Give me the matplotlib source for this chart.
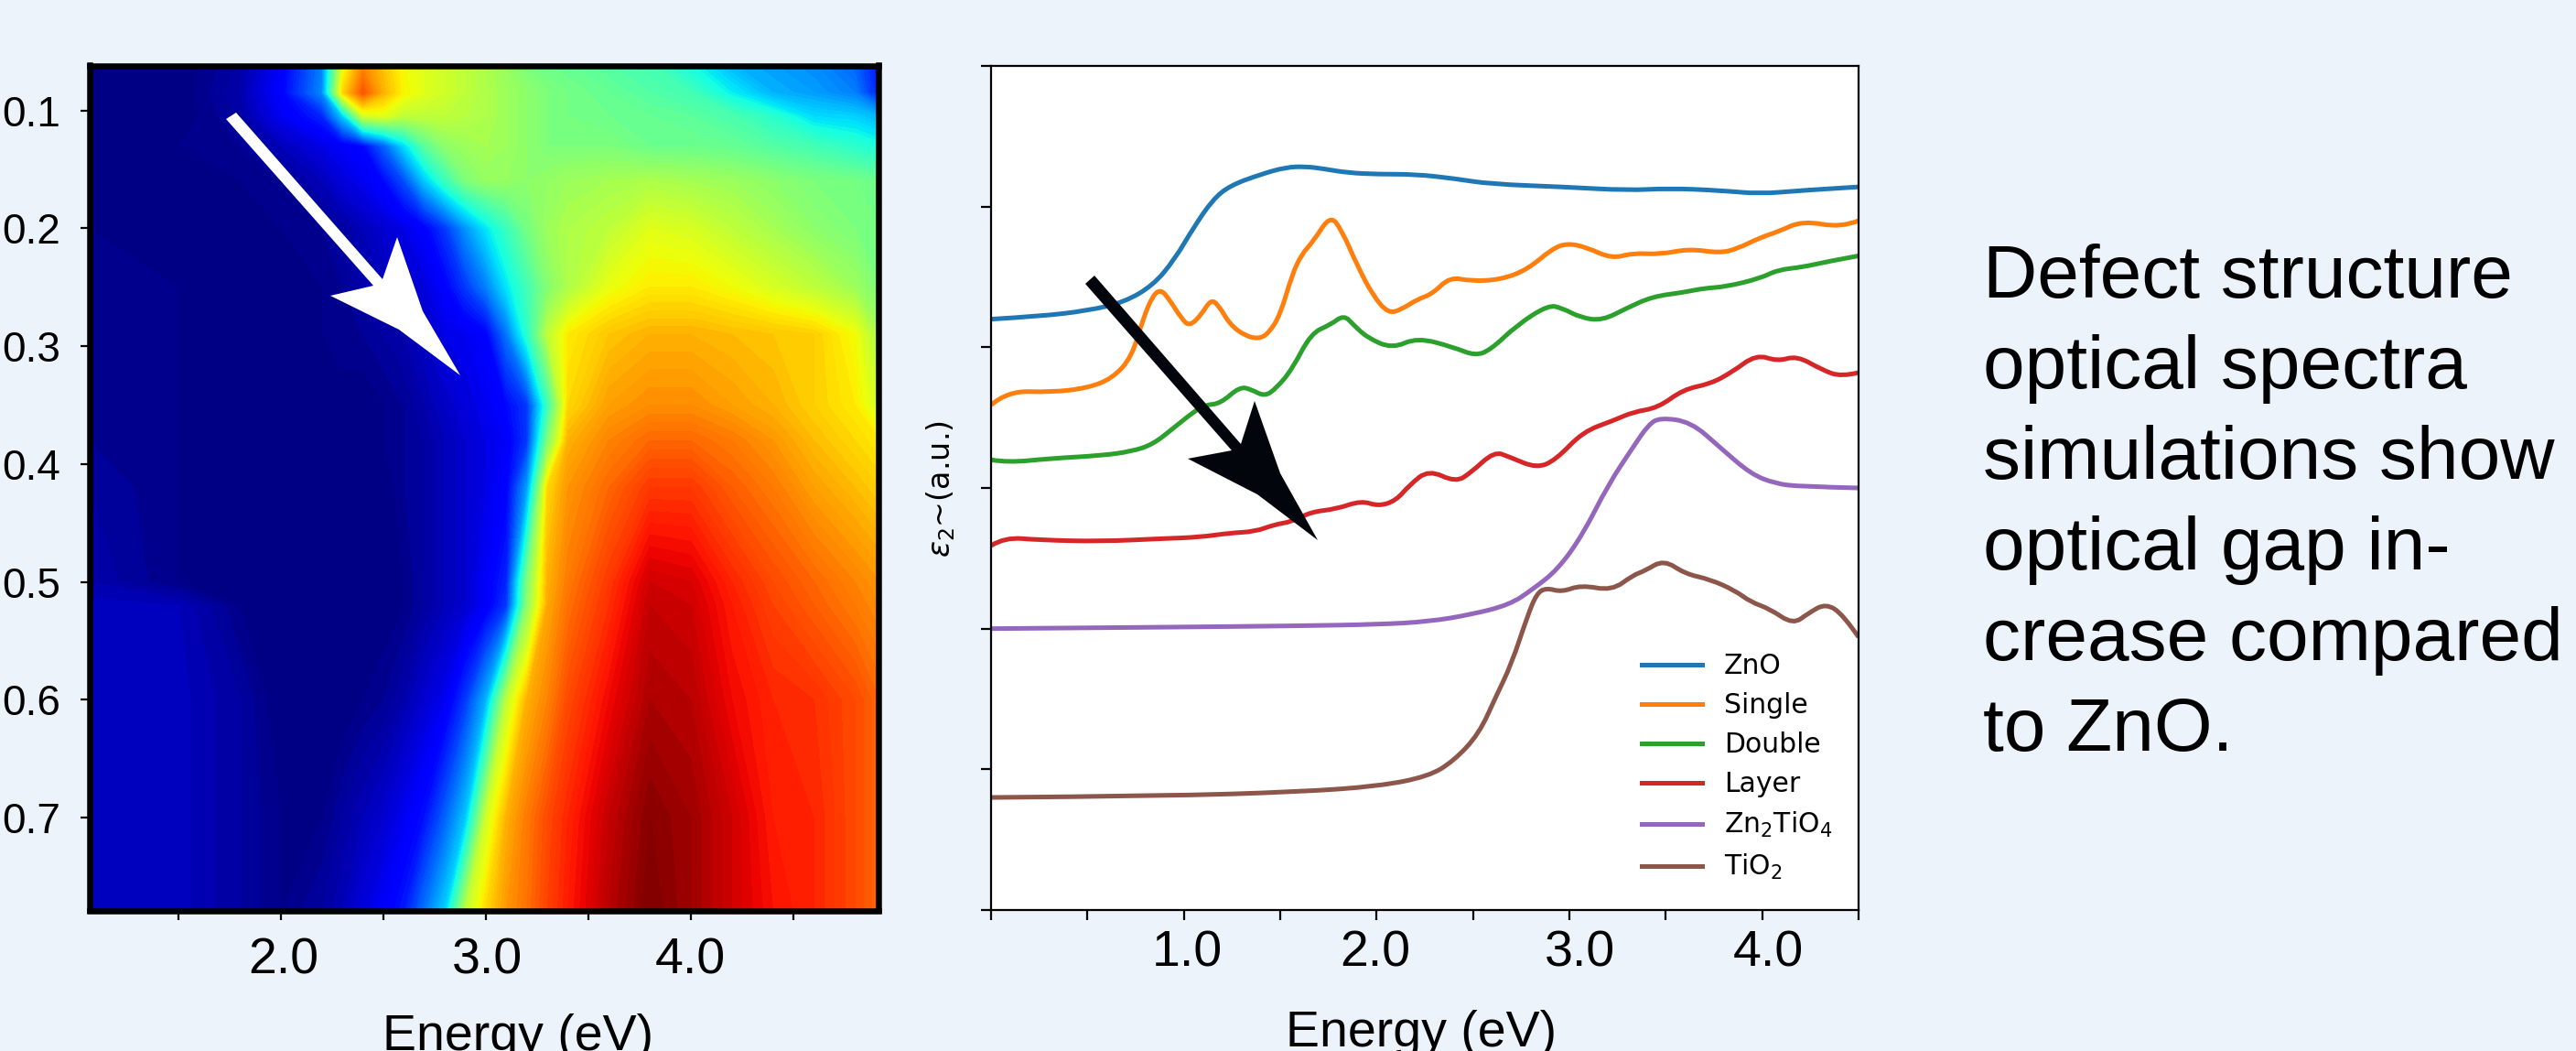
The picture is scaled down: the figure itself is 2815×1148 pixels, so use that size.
import numpy as np
import matplotlib
matplotlib.use("Agg")
import matplotlib.pyplot as plt
from matplotlib.lines import Line2D
from matplotlib.patches import PathPatch, Polygon
from matplotlib.path import Path

plt.rcParams['font.family'] = ['Liberation Sans', 'DejaVu Sans']
plt.rcParams['mathtext.fontset'] = 'dejavusans'

W, H = 2815, 1148
BG = '#edf3fb'

# map: energy columns, y rows, intensity (0-1 on jet)
map_energy = [1.06, 1.50, 1.80, 2.00, 2.20, 2.30, 2.40, 2.50, 2.60, 2.70, 2.80, 2.90, 3.00,
              3.10, 3.20, 3.30, 3.40, 3.60, 3.80, 4.00, 4.20, 4.40, 4.60, 4.80, 4.92]
map_y = [0.06, 0.085, 0.105, 0.13, 0.16, 0.20, 0.25, 0.29, 0.35, 0.38, 0.42, 0.50, 0.52, 0.60, 0.70, 0.78]
map_values = [
    [0, 0, .03, .11, .25, .62, .76, .70, .64, .62, .60, .58, .56, .53, .50, .48, .47, .45, .43, .37, .30, .28, .26, .22, .14],
    [0, 0, .04, .12, .26, .68, .82, .72, .65, .62, .60, .58, .56, .54, .52, .50, .49, .47, .45, .43, .36, .30, .28, .25, .15],
    [0, 0, .03, .10, .16, .32, .60, .62, .58, .58, .58, .57, .56, .54, .52, .50, .49, .48, .47, .46, .44, .40, .34, .33, .30],
    [0, .01, .02, .05, .09, .11, .13, .22, .34, .46, .52, .54, .55, .54, .52, .50, .50, .50, .48, .48, .47, .45, .43, .40, .38],
    [0, .01, .01, .02, .05, .08, .10, .13, .20, .32, .42, .50, .53, .53, .52, .53, .54, .55, .56, .55, .54, .52, .50, .49, .48],
    [.01, .01, .01, .01, .02, .03, .05, .07, .09, .12, .18, .27, .35, .42, .49, .54, .56, .58, .62, .61, .58, .55, .52, .50, .49],
    [.02, .01, .01, .01, .01, .02, .04, .05, .07, .08, .12, .18, .25, .35, .43, .51, .56, .63, .66, .66, .64, .61, .58, .54, .50],
    [.02, .01, .01, .01, .01, .02, .02, .03, .04, .06, .09, .10, .12, .24, .40, .58, .66, .70, .72, .72, .71, .70, .69, .64, .55],
    [.02, .01, 0, 0, 0, 0, 0, .01, .02, .04, .06, .08, .10, .13, .18, .42, .68, .74, .76, .76, .74, .72, .69, .66, .60],
    [.02, .01, 0, 0, 0, 0, 0, .01, .02, .03, .05, .07, .09, .11, .18, .50, .72, .77, .80, .80, .78, .75, .71, .68, .66],
    [.03, .01, 0, 0, 0, 0, 0, 0, .02, .03, .05, .07, .09, .12, .28, .68, .75, .80, .85, .85, .81, .78, .74, .71, .69],
    [.04, .01, 0, 0, 0, 0, 0, 0, .01, .03, .05, .07, .11, .16, .50, .72, .78, .85, .93, .92, .87, .83, .80, .77, .75],
    [.055, .05, .01, 0, 0, 0, 0, 0, .01, .03, .05, .07, .11, .18, .52, .73, .79, .86, .94, .93, .88, .84, .81, .78, .76],
    [.055, .055, .03, 0, 0, 0, .01, .02, .04, .07, .10, .18, .30, .58, .72, .77, .83, .90, .96, .95, .90, .87, .86, .83, .80],
    [.055, .055, .03, .01, .01, .03, .05, .07, .10, .14, .22, .32, .60, .72, .78, .83, .87, .94, .99, .97, .93, .88, .87, .83, .80],
    [.055, .055, .03, .01, .03, .05, .08, .11, .15, .24, .33, .58, .68, .75, .79, .84, .88, .95, 1.0, .97, .93, .89, .87, .83, .80],
]

# spectra, y in tick units of the right panel
zno_x = [0, .25, .5, .69, .84, .95, 1.05, 1.15, 1.24, 1.40, 1.53, 1.63, 1.72, 1.85, 2.01, 2.20, 2.40, 2.59, 2.97, 3.30, 3.52, 3.78, 3.99, 4.20, 4.50]
zno_y = [4.20, 4.22, 4.26, 4.32, 4.44, 4.62, 4.85, 5.05, 5.15, 5.23, 5.28, 5.285, 5.27, 5.24, 5.23, 5.23, 5.20, 5.16, 5.14, 5.115, 5.13, 5.115, 5.09, 5.115, 5.14]
single_x = [0, .087, .31, .50, .63, .73, .79, .84, .88, .92, .99, 1.03, 1.09, 1.14, 1.18, 1.24, 1.32, 1.39, 1.44, 1.50, 1.56, 1.61, 1.67, 1.76, 1.82, 1.90, 1.98, 2.06, 2.13, 2.21, 2.29, 2.38, 2.49, 2.64, 2.78, 2.91, 2.99, 3.09, 3.22, 3.33, 3.47, 3.62, 3.78, 3.87, 3.99, 4.08, 4.21, 4.41, 4.50]
single_y = [3.59, 3.69, 3.68, 3.71, 3.78, 3.93, 4.21, 4.37, 4.41, 4.35, 4.20, 4.15, 4.23, 4.34, 4.30, 4.16, 4.08, 4.06, 4.10, 4.23, 4.51, 4.66, 4.75, 4.94, 4.83, 4.58, 4.37, 4.24, 4.27, 4.34, 4.38, 4.50, 4.47, 4.48, 4.55, 4.70, 4.74, 4.71, 4.63, 4.67, 4.66, 4.70, 4.67, 4.70, 4.78, 4.82, 4.90, 4.85, 4.90]
double_x = [0, .087, .31, .57, .73, .84, .95, 1.05, 1.11, 1.19, 1.29, 1.35, 1.42, 1.48, 1.56, 1.66, 1.76, 1.83, 1.88, 1.95, 2.08, 2.21, 2.40, 2.51, 2.59, 2.73, 2.89, 2.96, 3.06, 3.17, 3.30, 3.43, 3.59, 3.70, 3.81, 3.99, 4.08, 4.21, 4.34, 4.50]
double_y = [3.20, 3.18, 3.21, 3.23, 3.26, 3.31, 3.43, 3.54, 3.59, 3.60, 3.72, 3.70, 3.65, 3.71, 3.84, 4.10, 4.16, 4.23, 4.16, 4.07, 3.99, 4.07, 4.00, 3.94, 3.98, 4.16, 4.30, 4.28, 4.21, 4.19, 4.28, 4.36, 4.39, 4.42, 4.43, 4.49, 4.55, 4.57, 4.61, 4.65]
layer_x = [0, .07, .25, .57, .89, 1.08, 1.24, 1.37, 1.47, 1.56, 1.66, 1.79, 1.92, 2.01, 2.10, 2.17, 2.27, 2.41, 2.49, 2.61, 2.69, 2.83, 2.93, 3.07, 3.23, 3.33, 3.46, 3.59, 3.73, 3.84, 3.97, 4.08, 4.18, 4.31, 4.41, 4.50]
layer_y = [2.59, 2.65, 2.63, 2.62, 2.64, 2.65, 2.68, 2.69, 2.74, 2.76, 2.83, 2.85, 2.91, 2.87, 2.91, 3.02, 3.13, 3.04, 3.11, 3.26, 3.22, 3.14, 3.20, 3.40, 3.48, 3.54, 3.57, 3.70, 3.74, 3.82, 3.95, 3.90, 3.94, 3.84, 3.79, 3.82]
zn2tio4_x = [0, .89, 1.60, 2.01, 2.27, 2.49, 2.69, 2.81, 2.94, 3.07, 3.20, 3.33, 3.41, 3.47, 3.63, 3.78, 3.94, 4.07, 4.20, 4.50]
zn2tio4_y = [2.00, 2.01, 2.02, 2.03, 2.05, 2.10, 2.17, 2.28, 2.42, 2.67, 3.02, 3.29, 3.45, 3.50, 3.47, 3.29, 3.10, 3.03, 3.01, 3.00]
tio2_x = [0, .89, 1.60, 2.01, 2.27, 2.40, 2.53, 2.62, 2.70, 2.78, 2.83, 2.88, 2.96, 3.06, 3.22, 3.33, 3.39, 3.49, 3.60, 3.73, 3.86, 3.94, 4.04, 4.16, 4.24, 4.33, 4.42, 4.50]
tio2_y = [.80, .81, .84, .88, .95, 1.06, 1.25, 1.52, 1.75, 2.08, 2.25, 2.29, 2.26, 2.31, 2.27, 2.38, 2.41, 2.49, 2.39, 2.35, 2.27, 2.19, 2.14, 2.03, 2.11, 2.18, 2.10, 1.94]

series_labels = ['ZnO', 'Single', 'Double', 'Layer', r'Zn$_2$TiO$_4$', r'TiO$_2$']
series_colors = ['#1f77b4', '#ff7f0e', '#2ca02c', '#d62728', '#9467bd', '#8c564b']

caption_lines = ['Defect structure', 'optical spectra', 'simulations show',
                 'optical gap in-', 'crease compared', 'to ZnO.']


def px_axes(fig, x0, y0, x1, y1):
    return fig.add_axes([x0 / W, 1 - y1 / H, (x1 - x0) / W, (y1 - y0) / H])


def px_poly(points, color):
    # arrows are annotations on top of the panels, given in image pixels
    xy = [(x / W, 1 - y / H) for x, y in points]
    return Polygon(xy, closed=True, transform=fig.transFigure, facecolor=color,
                   edgecolor='none', zorder=10)


def px_text(x, y, s, **kw):
    return fig.text(x / W, 1 - y / H, s, **kw)


def smooth_curve(ax, xs, ys, color):
    # read points act as quadratic bezier controls, so the curve keeps no corners
    pts = np.column_stack([xs, ys])
    verts = [pts[0]]
    codes = [Path.MOVETO]
    for i in range(1, len(pts) - 1):
        end = pts[i + 1] if i == len(pts) - 2 else (pts[i] + pts[i + 1]) / 2
        verts += [pts[i], end]
        codes += [Path.CURVE3, Path.CURVE3]
    ax.add_patch(PathPatch(Path(verts, codes), fill=False, edgecolor=color, lw=3.6))


fig = plt.figure(figsize=(W / 100, H / 100), dpi=100, facecolor=BG)

# left panel
ax1 = px_axes(fig, 98, 71.5, 960, 994.5)
ax1.contourf(map_energy, map_y, np.array(map_values), levels=np.linspace(0, 1, 101), cmap='jet')
ax1.set_xlim(1.067, 4.915)
ax1.set_ylim(0.7788, 0.0619)
ax1.set_xticks([1.5, 2.0, 2.5, 3.0, 3.5, 4.0, 4.5])
ax1.set_xticklabels([])
ax1.set_yticks([0.1, 0.2, 0.3, 0.4, 0.5, 0.6, 0.7])
ax1.set_yticklabels(['0.1', '0.2', '0.3', '0.4', '0.5', '0.6', '0.7'])
ax1.tick_params(axis='both', labelsize=33, length=7, width=1.6)
ax1.tick_params(axis='y', pad=16)
for s in ax1.spines.values():
    s.set_linewidth(4.7)
for xpos, txt in zip([310, 532, 754], ['2.0', '3.0', '4.0']):
    px_text(xpos, 1063, txt, fontsize=40, ha='center', va='baseline')
px_text(566, 1147, 'Energy (eV)', fontsize=40, ha='center', va='baseline')

# right panel
ax2 = px_axes(fig, 1083, 72, 2031, 994)
smooth_curve(ax2, zno_x, zno_y, series_colors[0])
smooth_curve(ax2, single_x, single_y, series_colors[1])
smooth_curve(ax2, double_x, double_y, series_colors[2])
smooth_curve(ax2, layer_x, layer_y, series_colors[3])
smooth_curve(ax2, zn2tio4_x, zn2tio4_y, series_colors[4])
smooth_curve(ax2, tio2_x, tio2_y, series_colors[5])
ax2.set_xlim(0, 4.5)
ax2.set_ylim(0, 6)
ax2.set_xticks([0, 0.5, 1, 1.5, 2, 2.5, 3, 3.5, 4, 4.5])
ax2.set_xticklabels([])
ax2.set_yticks(range(7))
ax2.set_yticklabels([])
ax2.tick_params(axis='both', length=8, width=1.6)
for s in ax2.spines.values():
    s.set_linewidth(1.6)
for xpos, txt in zip([1297, 1503, 1726, 1932], ['1.0', '2.0', '3.0', '4.0']):
    px_text(xpos, 1056, txt, fontsize=40, ha='center', va='baseline')
px_text(1553, 1143, 'Energy (eV)', fontsize=40, ha='center', va='baseline')
px_text(1028, 534, r'$\varepsilon_2$~(a.u.)', fontsize=24, rotation=90,
        ha='center', va='center', family='DejaVu Sans')
handles = [Line2D([], [], color=c, lw=3.6) for c in series_colors]
ax2.legend(handles, series_labels, loc='lower right', bbox_to_anchor=(0.998, 0.004), frameon=False,
           prop={'family': 'DejaVu Sans', 'size': 21.5}, handlelength=2.2, labelspacing=0.47,
           handletextpad=0.8)

# arrows
fig.add_artist(px_poly([(247, 130), (258, 123), (418, 305), (434, 259), (462, 340), (503, 410),
                        (436, 360), (361, 323), (408, 312)], 'white'))
fig.add_artist(px_poly([(1186, 310), (1196, 301), (1356, 485), (1371, 438), (1399, 517), (1440, 590),
                        (1374, 540), (1298, 501), (1346, 492)], '#02060c'))

for i, line in enumerate(caption_lines):
    px_text(2167, 325 + i * 99, line, fontsize=59, ha='left', va='baseline')

fig.savefig('out.png', dpi=100, facecolor=BG)
